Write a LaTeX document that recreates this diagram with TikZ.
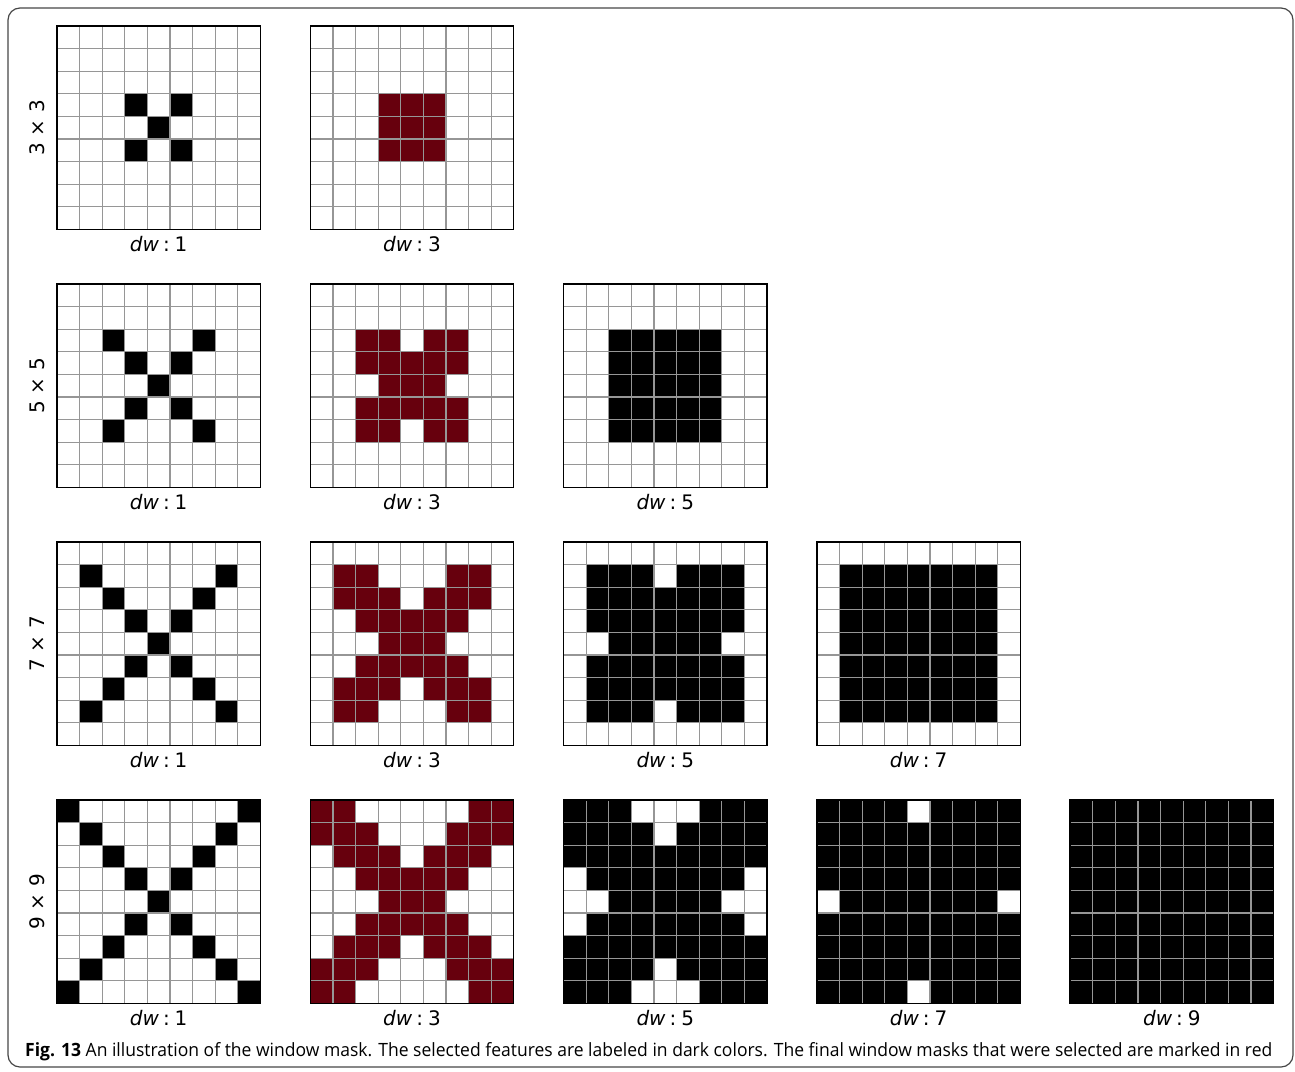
\documentclass[tikz,border=0pt]{standalone}
\usepackage{fontspec}
\usepackage{graphicx}
\setmainfont{DejaVu Sans}
\newfontfamily\capfont{Open Sans}
\definecolor{maskred}{RGB}{103,0,13}
\definecolor{gridgray}{RGB}{150,150,150}
\definecolor{framec}{RGB}{70,70,70}
\tikzset{
  gridline/.style={gridgray, line width=1.2pt},
  gridbox/.style={draw=black, line width=1.5pt, inner sep=0pt, outer sep=0pt,
    minimum width=203.4pt, minimum height=203.4pt, anchor=north west},
  dwlab/.style={anchor=north, inner sep=0pt, font=\fontsize{20}{24}\selectfont},
  rowlab/.style={rotate=90, inner sep=0pt, font=\fontsize{20}{24}\selectfont},
  caplab/.style={anchor=west, inner sep=0pt}
}
\begin{document}
\begin{tikzpicture}[x=1pt,y=-1pt]
\useasboundingbox (0,0) rectangle (1295,1071);
\draw[framec, line width=1.2pt, rounded corners=12pt] (8,8) rectangle (1293,1067);
\foreach \h [count=\ri from 0] in {1,2,3,4}{
  \pgfmathtruncatemacro\w{2*\h+1}
  \pgfmathsetmacro\Y{26+258*\ri}
  \node[rowlab] (r\h) at (37,\Y+101.7) {\w\ × \w};
  \foreach \k in {0,...,\h}{
    \pgfmathsetmacro\X{57+253.3*\k}
    \pgfmathtruncatemacro\dw{2*\k+1}
    \ifnum\k=1 \def\col{maskred}\else\def\col{black}\fi
    \foreach \r in {0,...,8}{
      \foreach \c in {0,...,8}{
        \pgfmathtruncatemacro\ok{and(and(abs(\r-4)<=\h,abs(\c-4)<=\h),min(abs(\r-\c),abs(\r+\c-8))<=\k)}
        \ifnum\ok=1 \fill[\col] (\X+\c*22.6,\Y+\r*22.6) rectangle ++(22.6,22.6);\fi
      }}
    \foreach \i in {1,...,8}{
      \draw[gridline] (\X+\i*22.6,\Y) -- (\X+\i*22.6,\Y+203.4);
      \draw[gridline] (\X,\Y+\i*22.6) -- (\X+203.4,\Y+\i*22.6);
    }
    \node[gridbox] (g\h\k) at (\X,\Y) {};
    \node[dwlab, yshift=-7pt] (l\h\k) at (g\h\k.south) {\textit{dw}\kern4pt:\kern5pt\dw};
  }
}
\node[caplab] (cap) at (25,1052) {\resizebox{1247pt}{14pt}{\capfont\fontsize{18}{20}\selectfont\textbf{Fig. 13} An illustration of the window mask. The selected features are labeled in dark colors. The final window masks that were selected are marked in red}};
\end{tikzpicture}
\end{document}
